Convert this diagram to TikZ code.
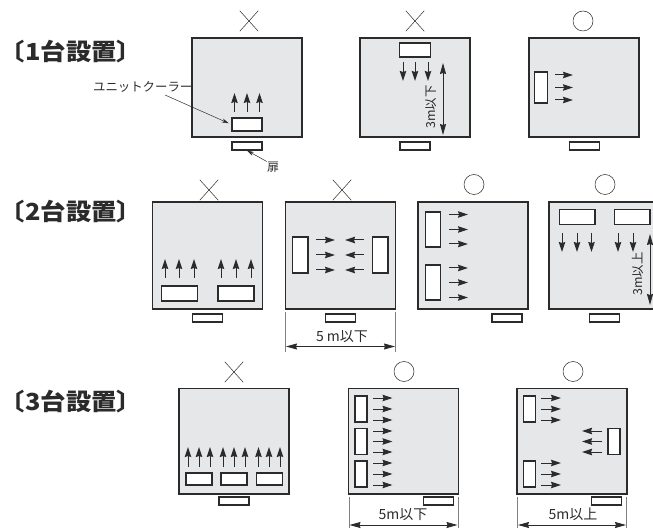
\documentclass[tikz,border=0pt]{standalone}
\usepackage{fontspec}
\setmainfont{Noto Sans CJK JP}
\newfontfamily\headingfont[FakeStretch=1.08]{Noto Sans CJK JP}
\usetikzlibrary{arrows.meta,shapes.misc}
\definecolor{roomgray}{HTML}{E6E7E8}
\definecolor{inkgray}{HTML}{2B2B2B}
\tikzset{
	room/.style={rectangle, draw=inkgray, line width=1.1pt, fill=roomgray, minimum width=110pt, minimum height=99pt, inner sep=0pt},
	unitbox/.style={rectangle, draw=inkgray, line width=1.1pt, fill=white, inner sep=0pt},
	doorbox/.style={unitbox, minimum width=30pt, minimum height=8pt},
	airflow/.style={-{Stealth[length=10pt, width=6.5pt, inset=1pt]}, inkgray, line width=1pt},
	span/.style={{Stealth[length=11pt, width=6pt, inset=1pt]}-{Stealth[length=11pt, width=6pt, inset=1pt]}, inkgray, line width=0.8pt},
	tick/.style={gray, line width=0.8pt},
	bad/.style={rectangle, cross out, draw=inkgray, line width=0.5pt, minimum width=18pt, minimum height=20pt, inner sep=0pt},
	good/.style={circle, draw=inkgray, line width=0.5pt, minimum size=20pt, inner sep=0pt},
	heading/.style={font=\fontsize{23.5}{24}\headingfont\bfseries, text=inkgray, inner sep=0pt},
	note/.style={font=\fontsize{12.4}{13}\selectfont, text=inkgray, inner sep=0pt},
	spannote/.style={note, font=\fontsize{14}{15}\selectfont},
	sidenote/.style={note, rotate=90}
}
\begin{document}
\begin{tikzpicture}[x=1pt, y=-1pt]
	\useasboundingbox (0,0) rectangle (653,529);

	% Headings
	\node[heading] (title1) at (71,52) {〔1台設置〕};
	\node[heading] (title2) at (71,212) {〔2台設置〕};
	\node[heading] (title3) at (71,402) {〔3台設置〕};

	% One unit, facing the door
	\node[bad] (mark1) at (249,21) {};
	\node[room] (room1) at (247,87.5) {};
	\node[unitbox, minimum width=30pt, minimum height=13pt] (unit1) at (247,124.5) {};
	\node[doorbox] (door1) at (247,146) {};
	\draw[airflow] (234.5,112) -- (234.5,93);
	\draw[airflow] (247,112) -- (247,93);
	\draw[airflow] (259.5,112) -- (259.5,93);
	\node[note, anchor=east] (coolerlabel) at (192.5,87) {ユニットクーラー};
	\coordinate (leaderstart) at (165,95);
	\draw[-{Stealth[length=7pt, width=4pt]}, inkgray, line width=0.5pt, shorten >=3pt] (leaderstart) -- (unit1.west);
	\node[font=\fontsize{12}{12}\selectfont, text=inkgray, inner sep=0pt] (doorlabel) at (273,167) {扉};
	\draw[-{Stealth[length=7pt, width=4pt]}, inkgray, line width=0.5pt] (doorlabel.north west) -- (door1.south);

	% One unit, at the far wall
	\node[bad] (mark2) at (415,21) {};
	\node[room] (room2) at (415,87.5) {};
	\node[unitbox, minimum width=31pt, minimum height=14pt] (unit2) at (415,50) {};
	\node[doorbox] (door2) at (415,146) {};
	\draw[airflow] (403,62) -- (403,81);
	\draw[airflow] (415,62) -- (415,81);
	\draw[airflow] (428,62) -- (428,81);
	\coordinate (span2a) at (443,63);
	\coordinate (span2b) at (443,135);
	\draw[span] (span2a) -- (span2b);
	\node[sidenote] (spanlabel2) at (431,107) {3m以下};

	% One unit, on the side wall
	\node[good] (mark3) at (583,21) {};
	\node[room] (room3) at (584,87.5) {};
	\node[unitbox, minimum width=13.5pt, minimum height=31pt] (unit3) at (541,87.5) {};
	\node[doorbox] (door3) at (584.5,146) {};
	\draw[airflow] (555,75) -- (573,75);
	\draw[airflow] (555,87.5) -- (573,87.5);
	\draw[airflow] (555,100) -- (573,100);

	% Two units, side by side
	\node[bad] (mark4) at (209,190) {};
	\node[room, minimum height=107pt] (room4) at (207.5,255.5) {};
	\node[unitbox, minimum width=36pt, minimum height=15pt] (unit4a) at (179.5,293.5) {};
	\node[unitbox, minimum width=36pt, minimum height=15pt] (unit4b) at (236,293.5) {};
	\node[doorbox] (door4) at (207.5,318) {};
	\draw[airflow] (165,278) -- (165,259);
	\draw[airflow] (179,278) -- (179,259);
	\draw[airflow] (194,278) -- (194,259);
	\draw[airflow] (221,278) -- (221,259);
	\draw[airflow] (236,278) -- (236,259);
	\draw[airflow] (251,278) -- (251,259);

	% Two units, blowing at each other
	\node[bad] (mark5) at (342,190) {};
	\node[room, minimum height=107pt] (room5) at (340.5,255.5) {};
	\node[unitbox, minimum width=15.5pt, minimum height=36pt] (unit5a) at (300.25,255) {};
	\node[unitbox, minimum width=15.5pt, minimum height=36pt] (unit5b) at (380.25,255) {};
	\node[doorbox] (door5) at (340.5,318) {};
	\draw[airflow] (316,240) -- (335,240);
	\draw[airflow] (316,255) -- (335,255);
	\draw[airflow] (316,270) -- (335,270);
	\draw[airflow] (364,240) -- (345,240);
	\draw[airflow] (364,255) -- (345,255);
	\draw[airflow] (364,270) -- (345,270);
	\coordinate (tick5a) at (285.5,312);
	\coordinate (tick5b) at (285.5,352);
	\coordinate (tick5c) at (395,312);
	\coordinate (tick5d) at (395,352);
	\draw[tick] (tick5a) -- (tick5b);
	\draw[tick] (tick5c) -- (tick5d);
	\coordinate (span5a) at (286,346.5);
	\coordinate (span5b) at (395,346.5);
	\draw[span] (span5a) -- (span5b);
	\node[spannote] (spanlabel5) at (342,337) {5 m以下};

	% Two units, same side wall
	\node[good] (mark6) at (474,184.5) {};
	\node[room, minimum height=107pt] (room6) at (473,255.5) {};
	\node[unitbox, minimum width=15.5pt, minimum height=35pt] (unit6a) at (433,229.5) {};
	\node[unitbox, minimum width=15.5pt, minimum height=35pt] (unit6b) at (433,282.5) {};
	\node[doorbox] (door6) at (507,318) {};
	\draw[airflow] (449,214.5) -- (468,214.5);
	\draw[airflow] (449,229.5) -- (468,229.5);
	\draw[airflow] (449,244) -- (468,244);
	\draw[airflow] (449,268) -- (468,268);
	\draw[airflow] (449,282.5) -- (468,282.5);
	\draw[airflow] (449,297.5) -- (468,297.5);

	% Two units, far wall, runs off the page
	\node[good] (mark7) at (605,184.5) {};
	\node[room, minimum height=107pt] (room7) at (604,255.5) {};
	\node[unitbox, minimum width=35.5pt, minimum height=15pt] (unit7a) at (577.25,217) {};
	\node[unitbox, minimum width=35.5pt, minimum height=15pt] (unit7b) at (632.25,217) {};
	\node[doorbox] (door7) at (604.5,318) {};
	\draw[airflow] (562,233) -- (562,252);
	\draw[airflow] (577,233) -- (577,252);
	\draw[airflow] (591.5,233) -- (591.5,252);
	\draw[airflow] (618,233) -- (618,252);
	\draw[airflow] (633,233) -- (633,252);
	\coordinate (span7a) at (650,234);
	\coordinate (span7b) at (650,305);
	\draw[span] (span7a) -- (span7b);
	\node[sidenote] (spanlabel7) at (638,274) {3m以上};

	% Three units, side by side
	\node[bad] (mark8) at (234,372) {};
	\node[room, minimum height=105.5pt] (room8) at (234,441.25) {};
	\node[unitbox, minimum width=26pt, minimum height=12pt] (unit8a) at (199,479) {};
	\node[unitbox, minimum width=26pt, minimum height=12pt] (unit8b) at (234,479) {};
	\node[unitbox, minimum width=26pt, minimum height=12pt] (unit8c) at (269.25,479) {};
	\node[doorbox] (door8) at (234,501) {};
	\draw[airflow] (188,467) -- (188,447);
	\draw[airflow] (199,467) -- (199,447);
	\draw[airflow] (210,467) -- (210,447);
	\draw[airflow] (223,467) -- (223,447);
	\draw[airflow] (234,467) -- (234,447);
	\draw[airflow] (245,467) -- (245,447);
	\draw[airflow] (258.5,467) -- (258.5,447);
	\draw[airflow] (269,467) -- (269,447);
	\draw[airflow] (280,467) -- (280,447);

	% Three units, same side wall
	\node[good] (mark9) at (404,371.5) {};
	\node[room, minimum height=105.5pt] (room9) at (403.5,441.25) {};
	\node[unitbox, minimum width=12pt, minimum height=26pt] (unit9a) at (361,409) {};
	\node[unitbox, minimum width=12pt, minimum height=26pt] (unit9b) at (361,441.5) {};
	\node[unitbox, minimum width=12pt, minimum height=26pt] (unit9c) at (361,474) {};
	\node[doorbox] (door9) at (438.75,501) {};
	\draw[airflow] (373,398) -- (392.5,398);
	\draw[airflow] (373,409) -- (392.5,409);
	\draw[airflow] (373,420) -- (392.5,420);
	\draw[airflow] (373,431) -- (392.5,431);
	\draw[airflow] (373,441.5) -- (392.5,441.5);
	\draw[airflow] (373,452) -- (392.5,452);
	\draw[airflow] (373,463) -- (392.5,463);
	\draw[airflow] (373,474) -- (392.5,474);
	\draw[airflow] (373,485) -- (392.5,485);
	\coordinate (tick9a) at (349,497);
	\coordinate (tick9b) at (349,528);
	\coordinate (tick9c) at (458,497);
	\coordinate (tick9d) at (458,528);
	\draw[tick] (tick9a) -- (tick9b);
	\draw[tick] (tick9c) -- (tick9d);
	\coordinate (span9a) at (349.5,525);
	\coordinate (span9b) at (457.5,525);
	\draw[span] (span9a) -- (span9b);
	\node[spannote] (spanlabel9) at (403,515) {5m以下};

	% Three units, two walls
	\node[good] (mark10) at (573,371.5) {};
	\node[room, minimum height=105.5pt] (room10) at (572,441.25) {};
	\node[unitbox, minimum width=12pt, minimum height=26pt] (unit10a) at (529.25,409) {};
	\node[unitbox, minimum width=12pt, minimum height=26pt] (unit10b) at (529.25,474) {};
	\node[unitbox, minimum width=12pt, minimum height=26pt] (unit10c) at (614,441.75) {};
	\node[doorbox] (door10) at (606.75,501) {};
	\draw[airflow] (541,398) -- (561,398);
	\draw[airflow] (541,409) -- (561,409);
	\draw[airflow] (541,420) -- (561,420);
	\draw[airflow] (541,463) -- (561,463);
	\draw[airflow] (541,474) -- (561,474);
	\draw[airflow] (541,485) -- (561,485);
	\draw[airflow] (602,431) -- (582,431);
	\draw[airflow] (602,441.5) -- (582,441.5);
	\draw[airflow] (602,452) -- (582,452);
	\coordinate (tick10a) at (517.5,497);
	\coordinate (tick10b) at (517.5,528);
	\coordinate (tick10c) at (626,497);
	\coordinate (tick10d) at (626,528);
	\draw[tick] (tick10a) -- (tick10b);
	\draw[tick] (tick10c) -- (tick10d);
	\coordinate (span10a) at (518,525);
	\coordinate (span10b) at (626,525);
	\draw[span] (span10a) -- (span10b);
	\node[spannote] (spanlabel10) at (573,514) {5m以上};
\end{tikzpicture}
\end{document}
